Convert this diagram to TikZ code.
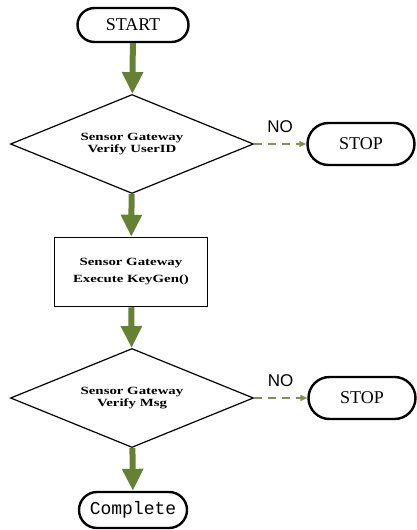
\documentclass[tikz,border=0pt]{standalone}
\usepackage{fontspec}
\setmainfont{Liberation Serif}
\newfontfamily\nofont{Liberation Sans}
\newfontfamily\cmplfont{Liberation Mono}
\newfontfamily\gwfont[FakeStretch=1.35]{Liberation Serif}
\usetikzlibrary{shapes.geometric,shapes.misc,arrows.meta}
\definecolor{flowgreen}{RGB}{100,130,50}
\definecolor{nogreen}{RGB}{125,150,70}
\tikzset{
  terminal/.style={rounded rectangle, draw, line width=2.4pt, minimum width=108pt,
    minimum height=36pt, inner sep=0pt, font=\fontsize{18}{20}\selectfont},
  decision/.style={diamond, draw, line width=1.2pt, minimum width=243pt, minimum height=99pt,
    aspect=2.45, inner sep=0pt, align=center, font=\gwfont\bfseries\fontsize{11}{12}\selectfont},
  process/.style={rectangle, draw, line width=1.5pt, minimum width=153pt, minimum height=69pt,
    align=center, font=\gwfont\bfseries\fontsize{11}{17}\selectfont},
  flow/.style={flowgreen, line width=6pt, -{Triangle[width=20pt,length=22pt]}},
  noflow/.style={nogreen, line width=1.6pt, dash pattern=on 8pt off 6pt, -{Triangle[width=6pt,length=7pt]}},
  nolabel/.style={above=7pt, text=black, font=\nofont\fontsize{17}{18}\selectfont}
}

\begin{document}
\begin{tikzpicture}[x=1pt, y=-1pt]
    \useasboundingbox (0, 0) rectangle (416, 530);
    \node [terminal, minimum width=111pt, minimum height=34pt] (start) at (133, 25) {START};
    \node [decision] (verifyid) at (132, 144) {Sensor Gateway\\Verify UserID};
    \node [terminal, minimum width=107pt, minimum height=42pt] (stopa) at (361, 144) {STOP};
    \node [process] (keygen) at (131, 272) {Sensor Gateway\\Execute KeyGen()};
    \node [decision] (verifymsg) at (132, 398) {Sensor Gateway\\Verify Msg};
    \node [terminal, minimum width=107pt, minimum height=42pt] (stopb) at (362, 398) {STOP};
    \node [terminal, minimum height=36pt, font=\cmplfont\fontsize{18}{20}\selectfont] (complete) at (133, 510) {Complete};

    % main path
    \draw [flow] (start) -- (verifyid);
    \draw [flow] (verifyid) -- (keygen);
    \draw [flow] (keygen) -- (verifymsg);
    \draw [flow] (verifymsg) -- (complete);

    % failure branches
    \draw [noflow] (verifyid.east) -- node[nolabel] (noa) {NO} (verifyid.east -| stopa.west);
    \draw [noflow] (verifymsg.east) -- node[nolabel] (nob) {NO} (verifymsg.east -| stopb.west);
\end{tikzpicture}
\end{document}
